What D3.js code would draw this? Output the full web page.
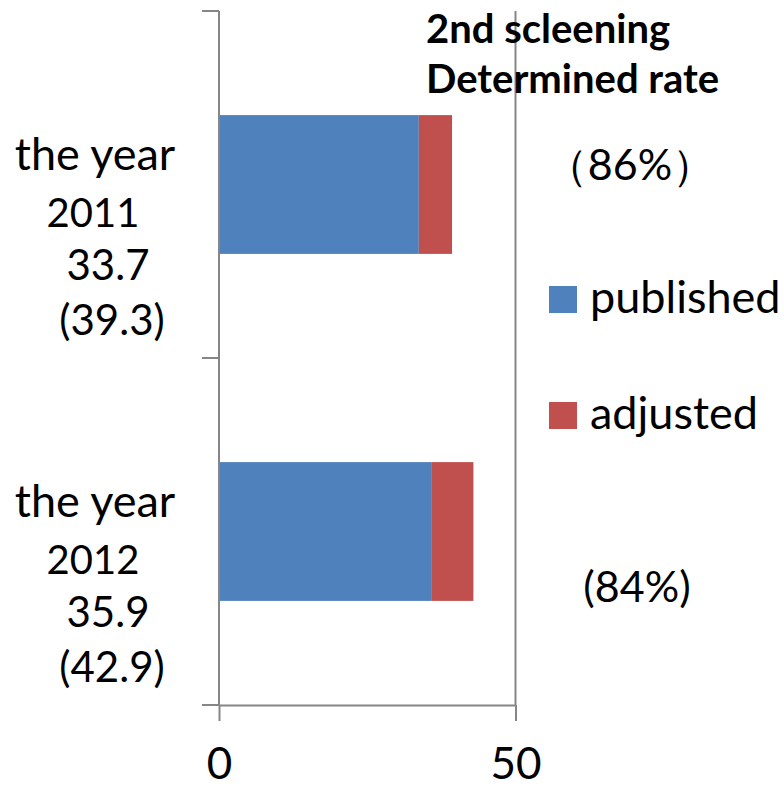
<!DOCTYPE html>
<html>
<head>
<meta charset="utf-8">
<script src="https://cdn.jsdelivr.net/npm/d3@7"></script>
<style>
  html, body { margin: 0; padding: 0; background: #fff; }
  svg { display: block; }
  text { font-family: Lato, "Noto Sans", sans-serif; fill: #000; }
</style>
</head>
<body>
<script>
// Second screening: published vs adjusted counts per year
const years = ["2011", "2012"];
const publishedValues = [33.7, 35.9];
const adjustedTotals = [39.3, 42.9];
const determinedRates = ["（86%）", "(84%)"];
const seriesNames = ["published", "adjusted"];
const seriesColors = ["#4F81BD", "#C0504D"];
const titleLines = ["2nd scleening", "Determined rate"];
const xTickValues = [0, 50];

const W = 784, H = 787;
const svg = d3.select("body").append("svg").attr("width", W).attr("height", H);

const x = d3.scaleLinear().domain([0, 50]).range([219, 515.5]);
const y = d3.scaleBand().domain(years).range([11, 705]).padding(0);
const barH = y.bandwidth() * 0.4;
const color = d3.scaleOrdinal().domain(seriesNames).range(seriesColors);

// stacked rows: adjusted segment runs from published to adjusted total
const rows = years.map((yr, i) => ({
  year: yr,
  published: publishedValues[i],
  adjusted: adjustedTotals[i] - publishedValues[i]
}));
const stacked = d3.stack().keys(seriesNames)(rows);

const axisColor = "#868686";

// gridline at 50
svg.append("g").selectAll("line").data(xTickValues.filter(v => v > 0)).join("line")
  .attr("x1", d => x(d)).attr("x2", d => x(d))
  .attr("y1", y.range()[0]).attr("y2", y.range()[1])
  .attr("stroke", axisColor).attr("stroke-width", 2);

// bars
svg.append("g").selectAll("g").data(stacked).join("g")
  .attr("fill", d => color(d.key))
  .selectAll("rect").data(d => d).join("rect")
  .attr("x", d => x(d[0]))
  .attr("width", d => x(d[1]) - x(d[0]))
  .attr("y", d => y(d.data.year) + y.bandwidth() / 2 - barH / 2)
  .attr("height", barH);

// x axis
const xAxis = svg.append("g")
  .attr("transform", `translate(0,${y.range()[1]})`)
  .call(d3.axisBottom(x).tickValues(xTickValues).tickSize(16).tickSizeOuter(0));
xAxis.select(".domain").attr("stroke", axisColor).attr("stroke-width", 2);
xAxis.selectAll(".tick line").attr("stroke", axisColor).attr("stroke-width", 2);
xAxis.selectAll(".tick text")
  .attr("y", 74).attr("dy", 0)
  .style("font-size", "44px").style("font-family", "Lato, sans-serif").attr("fill", "#000");

// y axis line with ticks on band boundaries
const yAxis = svg.append("g");
yAxis.append("line")
  .attr("x1", x(0)).attr("x2", x(0))
  .attr("y1", y.range()[0]).attr("y2", y.range()[1])
  .attr("stroke", axisColor).attr("stroke-width", 2);
const bounds = years.map(d => y(d)).concat([y(years[years.length - 1]) + y.bandwidth()]);
yAxis.selectAll("line.tick").data(bounds).join("line").attr("class", "tick")
  .attr("x1", x(0) - 17).attr("x2", x(0))
  .attr("y1", d => d).attr("y2", d => d)
  .attr("stroke", axisColor).attr("stroke-width", 2);

// category labels (multi-line)
const catG = svg.append("g").selectAll("text").data(years.map((yr, i) => ({ yr, i }))).join("text")
  .attr("text-anchor", "middle");
catG.each(function (d) {
  const cy = y(d.yr) + y.bandwidth() / 2;
  const t = d3.select(this);
  const lines = [
    { s: "the year", cx: 95, dy: -15, fs: 45 },
    { s: d.yr, cx: 93, dy: 42, fs: 40 },
    { s: publishedValues[d.i].toFixed(1), cx: 108, dy: 95, fs: 42 },
    { s: `(${adjustedTotals[d.i].toFixed(1)})`, cx: 112, dy: 150, fs: 42 }
  ];
  t.selectAll("tspan").data(lines).join("tspan")
    .attr("x", l => l.cx).attr("y", l => cy + l.dy)
    .style("font-size", l => l.fs + "px")
    .text(l => l.s);
});

// title
svg.append("text")
  .attr("x", 426).style("font-size", "40px").style("font-weight", "bold")
  .selectAll("tspan").data(titleLines).join("tspan")
  .attr("x", 426).attr("y", (d, i) => 43 + i * 50)
  .text(d => d);

// determined rates
const rateX = [630, 637];
const rateDy = [-5, 70];
svg.append("g").selectAll("text").data(years).join("text")
  .attr("text-anchor", "middle")
  .attr("x", (d, i) => rateX[i])
  .attr("y", (d, i) => y(d) + y.bandwidth() / 2 + rateDy[i])
  .style("font-size", "43px")
  .text((d, i) => determinedRates[i]);

// legend
const leg = svg.append("g").selectAll("g").data(seriesNames).join("g")
  .attr("transform", (d, i) => `translate(549,${286 + i * 116})`);
leg.append("rect").attr("width", 28).attr("height", 27).attr("fill", d => color(d));
leg.append("text").attr("x", 41).attr("y", 27).style("font-size", "45px").text(d => d);
</script>
</body>
</html>
